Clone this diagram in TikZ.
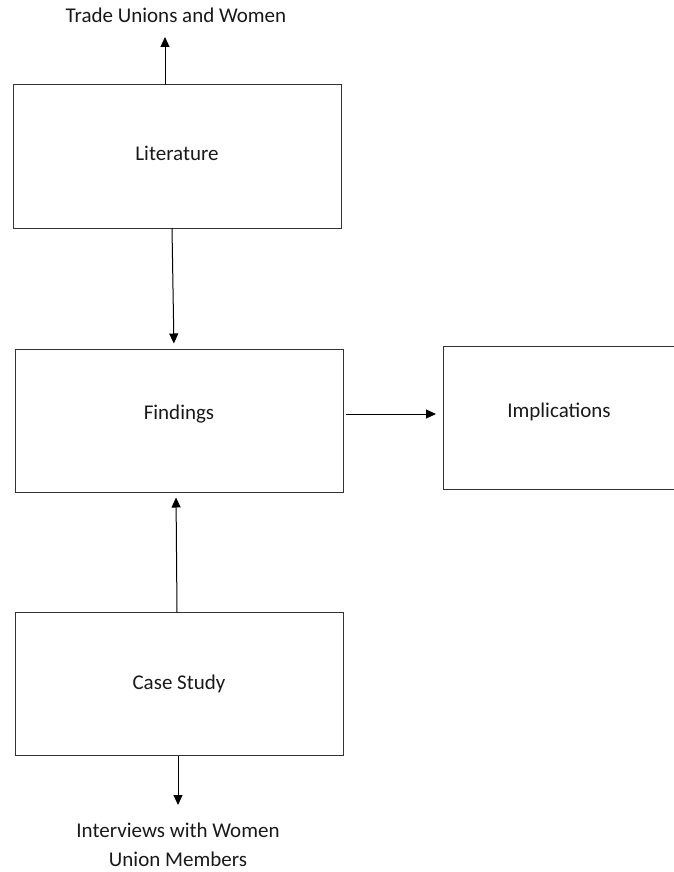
\documentclass[tikz,border=0pt]{standalone}
\usepackage{fontspec}
\setmainfont{Carlito}
\usetikzlibrary{arrows.meta}
\begin{document}
\begin{tikzpicture}[
    x=1pt, y=-1pt,
    box/.style={draw=black!80, line width=1pt, inner sep=0pt, outer sep=0pt,
                minimum width=328pt, minimum height=143pt},
    lbl/.style={text=black!90, font=\fontsize{21}{29}\selectfont},
    >={Triangle[width=9pt,length=10pt]},
    every path/.style={line width=1pt}
]
\useasboundingbox (0,0) rectangle (673,872);

% Riquadri
\node[box, lbl] (lit) at (177,156.5) {\raisebox{7pt}{Literature}};
\node[box, lbl] (find) at (179,421) {\raisebox{18pt}{Findings}};
\node[box, lbl, minimum width=232pt] (impl) at (559,418) {\raisebox{16pt}{Implications}};
\node[box, lbl] (case) at (179,684) {\raisebox{4pt}{Case Study}};

% Testi esterni
\node[lbl] (unions) at (176,15) {Trade Unions and Women};
\node[lbl, align=center] (interv) at (178,845) {Interviews with Women\\Union Members};
\coordinate (upEnd) at (165,37);
\coordinate (downEnd) at (178,805);

% Frecce
\draw[->] ([xshift=-12pt]lit.north) -- (upEnd);
\draw[->, shorten >=6pt] ([xshift=-5pt]lit.south) -- ([xshift=-5pt]find.north);
\draw[->, shorten <=3pt, shorten >=7pt] ([yshift=7pt]find.east) -- ([yshift=4pt]impl.west);
\draw[->, shorten >=5pt] ([xshift=-2pt]case.north) -- ([xshift=-3pt]find.south);
\draw[->] ([xshift=-1pt]case.south) -- (downEnd);
\end{tikzpicture}
\end{document}
